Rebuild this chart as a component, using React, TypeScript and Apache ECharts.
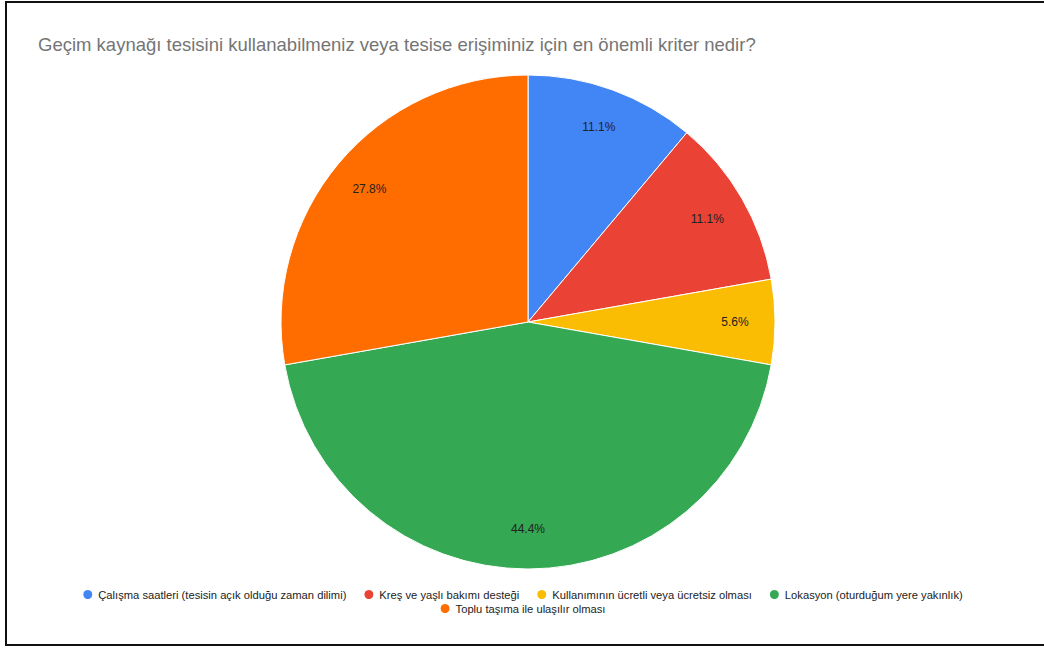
import React, { useEffect, useRef } from "react";
import * as echarts from "echarts";

const titleText = "Geçim kaynağı tesisini kullanabilmeniz veya tesise erişiminiz için en önemli kriter nedir?";
const categories = [
  "Çalışma saatleri (tesisin açık olduğu zaman dilimi)",
  "Kreş ve yaşlı bakımı desteği",
  "Kullanımının ücretli veya ücretsiz olması",
  "Lokasyon (oturduğum yere yakınlık)",
  "Toplu taşıma ile ulaşılır olması",
];
const values = [2, 2, 1, 8, 5];
const colors = ["#4285F4", "#EA4335", "#FBBC04", "#34A853", "#FF6D01"];

export default function App() {
  const ref = useRef<HTMLDivElement>(null);
  useEffect(() => {
    document.body.style.margin = "0";
    const chart = echarts.init(ref.current!, null, { renderer: "svg" });
    const data = categories.map((name, i) => ({ name, value: values[i] }));
    const font = "Liberation Sans, Arial, sans-serif";
    chart.setOption({
      animation: false,
      color: colors,
      title: {
        text: titleText,
        left: 33,
        top: 30,
        textStyle: { fontFamily: font, fontSize: 18.5, fontWeight: "normal", color: "#757575" },
      },
      legend: [
        {
          data: categories.slice(0, 4),
          left: "center",
          top: 583,
          icon: "circle",
          itemWidth: 11,
          itemHeight: 11,
          itemGap: 16,
          textStyle: { fontFamily: font, fontSize: 11.2, color: "#222" },
        },
        {
          data: categories.slice(4),
          left: "center",
          top: 597,
          icon: "circle",
          itemWidth: 11,
          itemHeight: 11,
          textStyle: { fontFamily: font, fontSize: 11.2, color: "#222" },
        },
      ],
      graphic: [
        {
          type: "rect",
          shape: { x: 6, y: 2, width: 1060, height: 643 },
          style: { fill: "none", stroke: "#111", lineWidth: 2 },
          silent: true,
        },
      ],
      series: [
        {
          type: "pie",
          center: [528, 322],
          radius: [0, 247],
          startAngle: 90,
          clockwise: true,
          data,
          label: { show: false },
          labelLine: { show: false },
          itemStyle: { borderColor: "#fff", borderWidth: 1 },
          emphasis: { disabled: true },
        },
        {
          type: "pie",
          center: [528, 322],
          radius: [161, 247],
          startAngle: 90,
          clockwise: true,
          silent: true,
          data,
          itemStyle: { color: "rgba(0,0,0,0)" },
          label: {
            show: true,
            position: "inside",
            formatter: (p: any) => p.percent.toFixed(1) + "%",
            fontFamily: font,
            fontSize: 12,
            color: "#222",
          },
          labelLine: { show: false },
          emphasis: { disabled: true },
        },
      ],
    });
    return () => chart.dispose();
  }, []);
  return <div ref={ref} style={{ width: 1044, height: 648 }} />;
}
